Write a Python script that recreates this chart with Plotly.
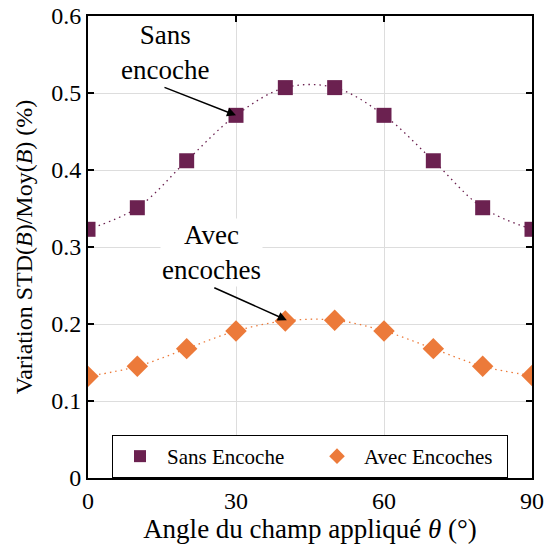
import plotly.graph_objects as go

angles = [0, 10, 20, 30, 40, 50, 60, 70, 80, 90]
sans_encoche = [0.323, 0.351, 0.412, 0.471, 0.507, 0.507, 0.471, 0.412, 0.351, 0.323]
avec_encoches = [0.132, 0.145, 0.168, 0.191, 0.204, 0.205, 0.191, 0.168, 0.145, 0.133]
x_ticks = [0, 30, 60, 90]
y_ticks = [0, 0.1, 0.2, 0.3, 0.4, 0.5, 0.6]

purple = "#6B2150"
orange = "#EC7A3A"
FONT = "'Liberation Serif', 'DejaVu Serif', serif"

fig = go.Figure()
fig.add_trace(go.Scatter(x=angles, y=sans_encoche, mode="lines", line=dict(color=purple, width=1.3, dash="1.5px,4px", shape="spline", smoothing=1.0), showlegend=False, hoverinfo="skip"))
fig.add_trace(go.Scatter(x=angles, y=avec_encoches, mode="lines", line=dict(color=orange, width=1.3, dash="1.5px,4px", shape="spline", smoothing=1.0), showlegend=False, hoverinfo="skip"))
fig.add_trace(go.Scatter(x=angles, y=sans_encoche, mode="markers", name="Sans Encoche",
                         marker=dict(symbol="square", size=15, color=purple, line=dict(width=0))))
fig.add_trace(go.Scatter(x=angles, y=avec_encoches, mode="markers", name="Avec Encoches",
                         marker=dict(symbol="diamond", size=16.5, color=orange, line=dict(width=0))))

axis_common = dict(showline=True, linecolor="black", linewidth=2, mirror="ticks", ticks="inside", ticklen=6,
                   tickwidth=2, tickcolor="black", showgrid=True, gridcolor="#DDDDDD", gridwidth=1,
                   zeroline=False, automargin=False, tickfont=dict(family=FONT, size=24, color="black"))

fig.update_xaxes(range=[0, 90], tickvals=x_ticks, ticktext=[str(v) for v in x_ticks],
                 title=dict(text="Angle du champ appliqué <i>θ</i> (°)", font=dict(family=FONT, size=27, color="black"), standoff=6),
                 **axis_common)
fig.update_yaxes(range=[0, 0.6], tickvals=y_ticks, ticktext=["0", "0.1", "0.2", "0.3", "0.4", "0.5", "0.6"],
                 title=dict(text="Variation STD(<i>B</i>)/Moy(<i>B</i>) (%)", font=dict(family=FONT, size=24, color="black"), standoff=12),
                 **axis_common)

ann_font = dict(family=FONT, size=27, color="black")
fig.add_annotation(x=15.6, y=0.552, xref="x", yref="y", text="Sans<br>encoche", showarrow=False, font=ann_font, align="center")
fig.add_annotation(x=25.1, y=0.293, xref="x", yref="y", text="Avec<br>encoches", showarrow=False, font=ann_font, align="center", bgcolor="white")
fig.add_annotation(x=30, y=0.471, ax=15.2, ay=0.508, xref="x", yref="y", axref="x", ayref="y", text="", showarrow=True,
                   arrowhead=2, arrowsize=1.2, arrowwidth=1.5, arrowcolor="black")
fig.add_annotation(x=40.3, y=0.205, ax=25.3, ay=0.248, xref="x", yref="y", axref="x", ayref="y", text="", showarrow=True,
                   arrowhead=2, arrowsize=1.2, arrowwidth=1.5, arrowcolor="black")

fig.update_layout(
    width=552, height=549,
    margin=dict(l=88, r=20, t=16, b=71, autoexpand=False),
    paper_bgcolor="white", plot_bgcolor="white",
    legend=dict(orientation="h", x=0.5, xanchor="center", y=0, yanchor="bottom",
                bordercolor="black", borderwidth=1, bgcolor="white",
                font=dict(family=FONT, size=21, color="black"),
                itemwidth=44,
                entrywidth=138, entrywidthmode="pixels", itemsizing="constant"),
)

fig.write_html("out.html", config={"displayModeBar": False},
               post_script="document.body.style.margin='0';")
